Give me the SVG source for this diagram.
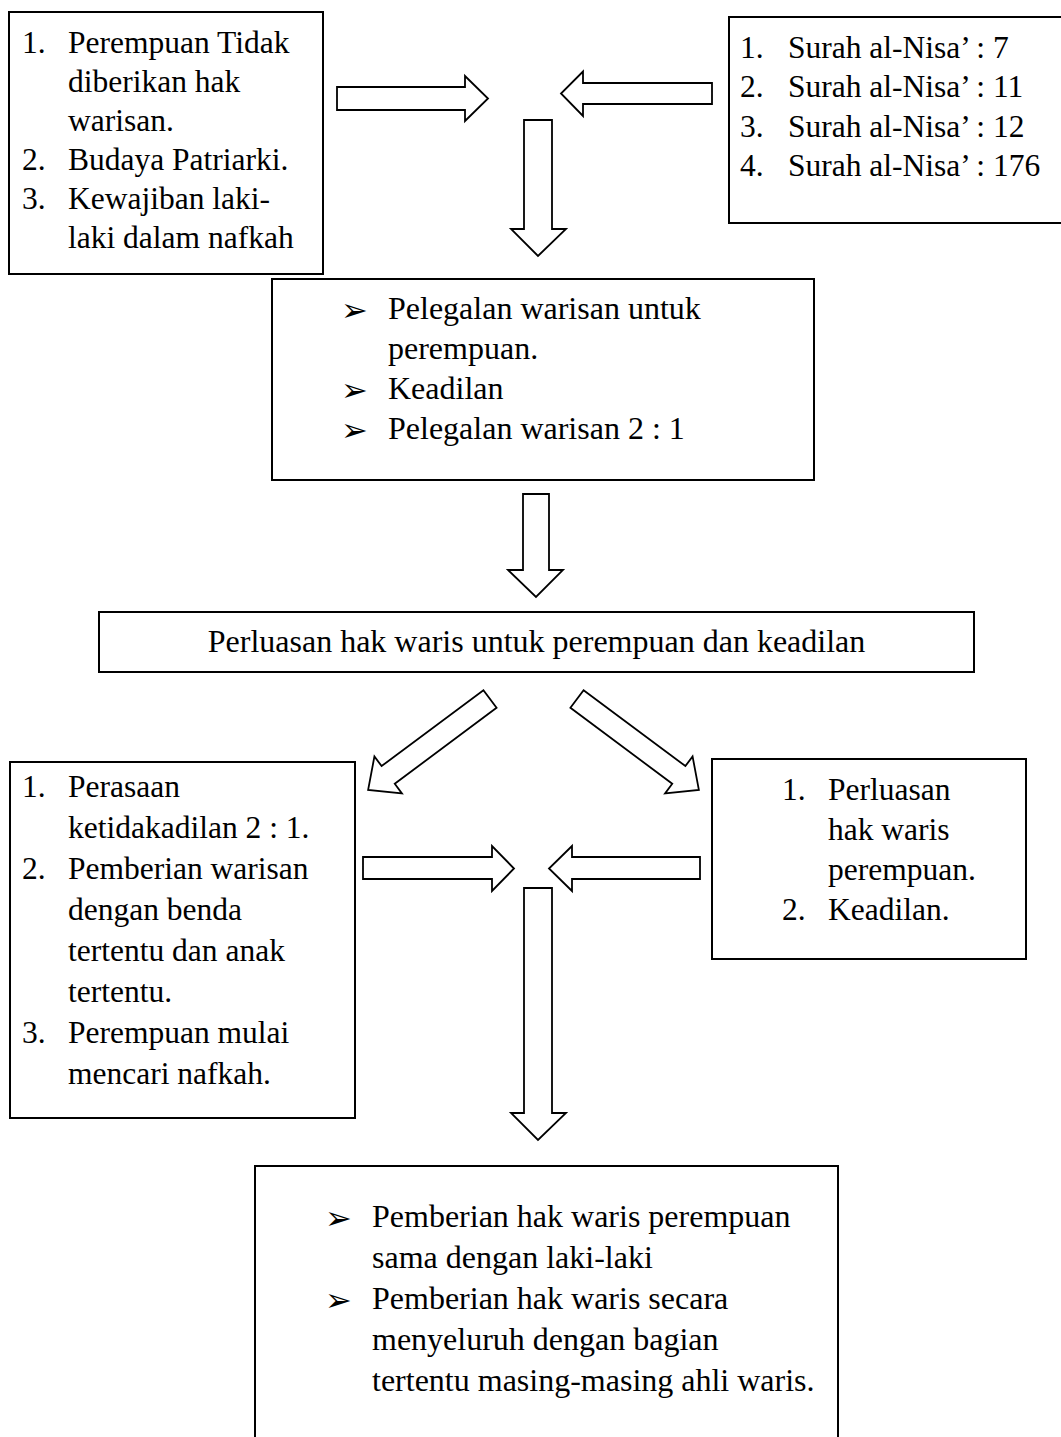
<svg xmlns="http://www.w3.org/2000/svg" width="1061" height="1437" viewBox="0 0 1061 1437">
<style>
.box{fill:#fff;stroke:#000;stroke-width:2}
.arr{fill:#fff;stroke:#000;stroke-width:1.8;stroke-linejoin:miter}
.t{font-family:"Liberation Serif","Times New Roman",serif;font-size:31.5px;fill:#000}
.t32{font-family:"Liberation Serif","Times New Roman",serif;font-size:32px;fill:#000}
.b{font-family:"DejaVu Sans",sans-serif;font-size:32px;fill:#000}
</style>
<defs>
<polygon id="diag" points="0,-11 127,-11 127,-23 152,0 127,23 127,11 0,11"/>
</defs>
<rect width="1061" height="1437" fill="#fff"/>

<g id="connectors">
<polygon class="arr" points="337,87 465,87 465,76 488,98.5 465,121 465,110 337,110"/>
<polygon class="arr" points="712,83 583,83 583,71.5 561,93.5 583,116 583,104 712,104"/>
<polygon class="arr" points="524,120 552,120 552,229 566,229 538,256 511,229 524,229"/>
<polygon class="arr" points="523,494 549,494 549,570 563,570 536,597 508,570 523,570"/>
<use href="#diag" class="arr" transform="translate(490,699) rotate(143.3)"/>
<use href="#diag" class="arr" transform="translate(577,699) rotate(36.7)"/>
<polygon class="arr" points="363,857 492,857 492,846 514,868.5 492,891 492,879 363,879"/>
<polygon class="arr" points="700,857 572,857 572,846 549,868.5 572,891 572,879 700,879"/>
<polygon class="arr" points="524,888 552,888 552,1113 566,1113 538,1140 511,1113 524,1113"/>
</g>

<g id="node-masalah">
<rect class="box" x="9" y="12" width="314" height="262"/>
<text class="t" x="22" y="53">1.</text>
<text class="t" x="68" y="53">Perempuan Tidak</text>
<text class="t" x="68" y="92">diberikan hak</text>
<text class="t" x="68" y="131">warisan.</text>
<text class="t" x="22" y="170">2.</text>
<text class="t" x="68" y="170">Budaya Patriarki.</text>
<text class="t" x="22" y="209">3.</text>
<text class="t" x="68" y="209">Kewajiban laki-</text>
<text class="t" x="68" y="248">laki dalam nafkah</text>
</g>

<g id="node-surah">
<rect class="box" x="729" y="17" width="345" height="206"/>
<text class="t" x="740" y="58">1.</text>
<text class="t" x="788" y="58">Surah al-Nisa’ : 7</text>
<text class="t" x="740" y="97">2.</text>
<text class="t" x="788" y="97">Surah al-Nisa’ : 11</text>
<text class="t" x="740" y="137">3.</text>
<text class="t" x="788" y="137">Surah al-Nisa’ : 12</text>
<text class="t" x="740" y="176">4.</text>
<text class="t" x="788" y="176">Surah al-Nisa’ : 176</text>
</g>

<g id="node-pelegalan">
<rect class="box" x="272" y="279" width="542" height="201"/>
<text class="b" x="341" y="321">➢</text>
<text class="t32" x="388" y="319">Pelegalan warisan untuk</text>
<text class="t32" x="388" y="358.5">perempuan.</text>
<text class="b" x="341" y="400.5">➢</text>
<text class="t32" x="388" y="398.5">Keadilan</text>
<text class="b" x="341" y="441">➢</text>
<text class="t32" x="388" y="439">Pelegalan warisan 2 : 1</text>
</g>

<g id="node-perluasan">
<rect class="box" x="99" y="612" width="875" height="60"/>
<text class="t32" x="536.5" y="652" text-anchor="middle">Perluasan hak waris untuk perempuan dan keadilan</text>
</g>

<g id="node-ketidakadilan">
<rect class="box" x="10" y="762" width="345" height="356"/>
<text class="t" x="22" y="797">1.</text>
<text class="t" x="68" y="797">Perasaan</text>
<text class="t" x="68" y="838">ketidakadilan 2 : 1.</text>
<text class="t" x="22" y="879">2.</text>
<text class="t" x="68" y="879">Pemberian warisan</text>
<text class="t" x="68" y="920">dengan benda</text>
<text class="t" x="68" y="961">tertentu dan anak</text>
<text class="t" x="68" y="1002">tertentu.</text>
<text class="t" x="22" y="1043">3.</text>
<text class="t" x="68" y="1043">Perempuan mulai</text>
<text class="t" x="68" y="1084">mencari nafkah.</text>
</g>

<g id="node-perluasan-hak">
<rect class="box" x="712" y="759" width="314" height="200"/>
<text class="t" x="782" y="800">1.</text>
<text class="t" x="828" y="800">Perluasan</text>
<text class="t" x="828" y="840">hak waris</text>
<text class="t" x="828" y="880">perempuan.</text>
<text class="t" x="782" y="920">2.</text>
<text class="t" x="828" y="920">Keadilan.</text>
</g>

<g id="node-pemberian">
<rect class="box" x="255" y="1166" width="583" height="290"/>
<text class="b" x="325" y="1229">➢</text>
<text class="t32" x="372" y="1227">Pemberian hak waris perempuan</text>
<text class="t32" x="372" y="1268">sama dengan laki-laki</text>
<text class="b" x="325" y="1311">➢</text>
<text class="t32" x="372" y="1309">Pemberian hak waris secara</text>
<text class="t32" x="372" y="1350">menyeluruh dengan bagian</text>
<text class="t32" x="372" y="1391">tertentu masing-masing ahli waris.</text>
</g>
</svg>
